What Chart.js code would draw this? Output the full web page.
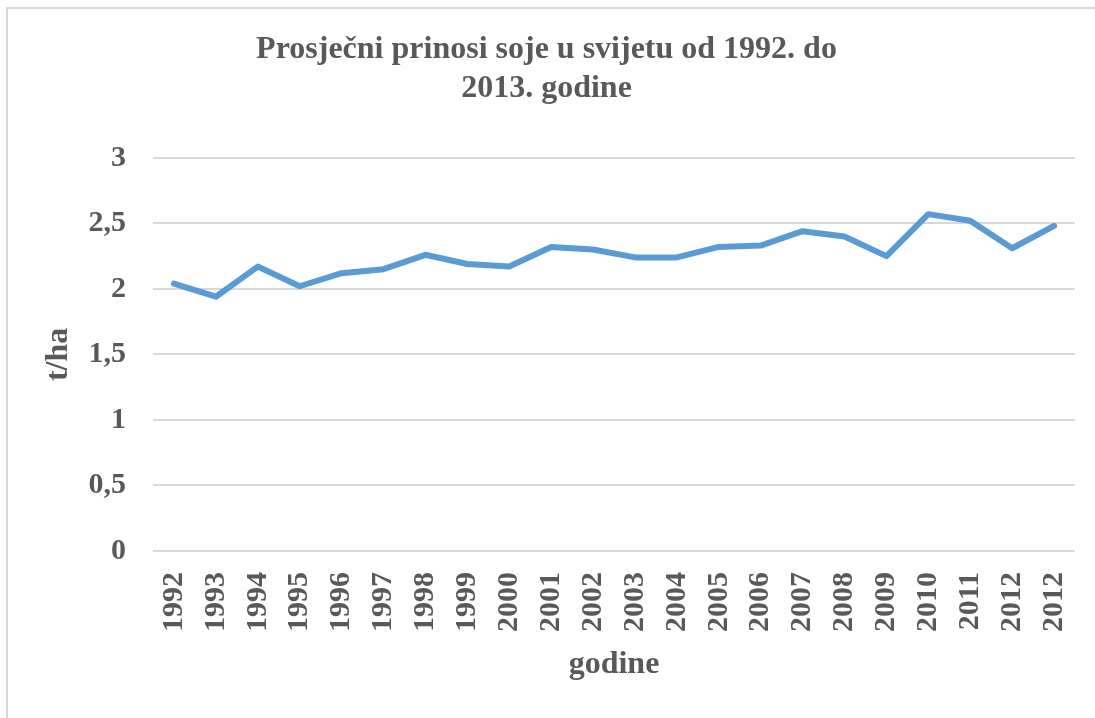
<!DOCTYPE html>
<html>
<head>
<meta charset="utf-8">
<script src="https://cdn.jsdelivr.net/npm/chart.js@4.4.0/dist/chart.umd.min.js"></script>
<style>
  html, body { margin: 0; padding: 0; background: #fff; overflow: hidden; }
  #wrap { position: absolute; left: 6px; top: 7px; width: 1089px; height: 711px;
          border-top: 2px solid #d9d9d9; border-left: 2px solid #d9d9d9; box-sizing: border-box; }
  canvas { display: block; }
</style>
</head>
<body>
<div id="wrap"><canvas id="c"></canvas></div>
<script>
// godine (zadnja oznaka ponovljena kao na originalu)
const years = ['1992','1993','1994','1995','1996','1997','1998','1999','2000','2001','2002',
               '2003','2004','2005','2006','2007','2008','2009','2010','2011','2012','2012'];
// prosječni prinos soje, t/ha
const yields = [2.04, 1.94, 2.17, 2.02, 2.12, 2.15, 2.26, 2.19, 2.17, 2.32, 2.30,
                2.24, 2.24, 2.32, 2.33, 2.44, 2.40, 2.25, 2.57, 2.52, 2.31, 2.48];

const grey = '#595959';
const serif = "'Liberation Serif', 'Times New Roman', serif";

new Chart(document.getElementById('c'), {
  type: 'line',
  data: {
    labels: years,
    datasets: [{
      data: yields,
      borderColor: '#5b9bd5',
      borderWidth: 6,
      borderCapStyle: 'round',
      borderJoinStyle: 'round',
      pointRadius: 0,
      tension: 0,
      fill: false
    }]
  },
  options: {
    responsive: true,
    maintainAspectRatio: false,
    animation: false,
    layout: { padding: { left: 10, right: 20, top: 0, bottom: 6 } },
    plugins: {
      legend: { display: false },
      tooltip: { enabled: false },
      title: {
        display: true,
        text: ['Prosječni prinosi soje u svijetu od 1992. do', '2013. godine'],
        color: grey,
        font: { family: serif, size: 32, weight: 'bold', lineHeight: 1.2 },
        padding: { top: 22, bottom: 50 }
      }
    },
    scales: {
      x: {
        offset: true,
        grid: { display: false, drawTicks: false },
        border: { display: false },
        afterFit: s => { s.height = 161; s.paddingLeft = 0; s.paddingRight = 0; },
        ticks: {
          color: grey,
          font: { family: serif, size: 30, weight: 'bold' },
          maxRotation: 90,
          minRotation: 90,
          autoSkip: false,
          padding: 21
        },
        title: {
          display: true,
          text: 'godine',
          color: grey,
          font: { family: serif, size: 32, weight: 'bold' },
          padding: { top: 0, bottom: 28 }
        }
      },
      y: {
        min: 0,
        max: 3,
        afterFit: s => { s.width = 135; },
        grid: { color: '#d9d9d9', lineWidth: 2, drawTicks: false },
        border: { display: false },
        ticks: {
          stepSize: 0.5,
          color: grey,
          font: { family: serif, size: 30, weight: 'bold' },
          padding: 27,
          callback: v => String(v).replace('.', ',')
        },
        title: {
          display: true,
          text: 't/ha',
          color: grey,
          font: { family: serif, size: 32, weight: 'bold' },
          padding: { top: 22, bottom: 0 }
        }
      }
    }
  }
});
</script>
</body>
</html>
